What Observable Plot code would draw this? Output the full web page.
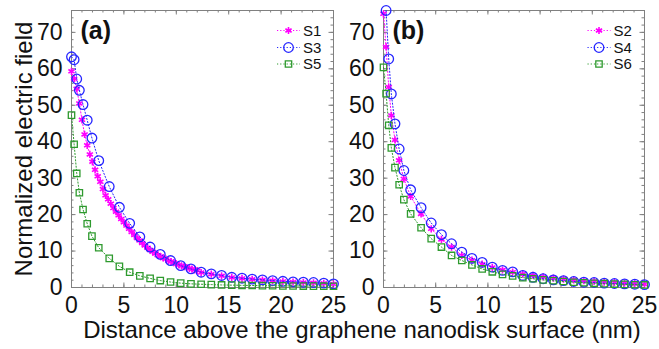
<!DOCTYPE html>
<html><head><meta charset="utf-8">
<script src="https://cdn.jsdelivr.net/npm/d3@7"></script>
<script src="https://cdn.jsdelivr.net/npm/@observablehq/plot@0.6"></script>
<style>
body{margin:0;background:#fff;}
#wrap{position:relative;width:659px;height:349px;overflow:hidden;font-family:"Liberation Sans",Arial,sans-serif;color:#111;}
.panel{position:absolute;top:0;}
#xlabel{position:absolute;left:82px;width:560px;top:318px;text-align:center;font-size:24px;line-height:24px;white-space:nowrap;}
#ylabel{position:absolute;left:24px;top:148.5px;transform:translate(-50%,-50%) rotate(-90deg);font-size:24px;line-height:24px;white-space:nowrap;}
#legend{position:absolute;left:0;top:0;pointer-events:none;}
</style></head>
<body>
<div id="wrap">
  <div id="pa" class="panel" style="left:0"></div>
  <div id="pb" class="panel" style="left:340px"></div>
  <div id="ylabel">Normalized electric field</div>
  <div id="xlabel">Distance above the graphene nanodisk surface (nm)</div>
</div>
<script>
// ---------- data ----------
const xGrid = [0, 0.25, 0.5, 0.75, 1.1, 1.5, 1.95, 2.6, 3.6, 4.57, 5.55, 6.52, 7.5, 8.47, 9.45, 10.42,
  11.4, 12.37, 13.34, 14.32, 15.29, 16.27, 17.24, 18.22, 19.19, 20.17, 21.14, 22.12, 23.09, 24.07, 25];

// panel (a)
const s1X = [0, 0.25, 0.5, 0.75, 1, 1.25, 1.5, 1.75, 2, 2.25, 2.5, 2.75, 3, 3.25, 3.5, 3.75, 4, 4.25, 4.5, 4.75,
  5, 5.25, 5.5, 5.75, 6, 6.25, 6.5, 6.75, 7, 7.25, 7.5, 7.75, 8, 8.25, 8.5, 8.75, 9, 9.25, 9.5, 9.75,
  10, 10.25, 10.5, 10.75, 11, 11.25, 11.5, 11.75, 12,
  12.37, 13.34, 14.32, 15.29, 16.27, 17.24, 18.22, 19.19, 20.17, 21.14, 22.12, 23.09, 24.07, 25];
const s1Y = [59.3, 57.3, 54.5, 50.5, 46, 42, 39, 36.5, 34.5, 32.3, 30.5, 29, 27, 25.3, 24.2, 23, 21.8, 20.8, 19.8, 18.8,
  17.9, 17, 16.1, 15.2, 14.4, 13.6, 12.9, 12.2, 11.5, 10.9, 10.3, 9.8, 9.3, 8.9, 8.5, 8.1, 7.8, 7.4, 7.1, 6.8,
  6.5, 6.2, 5.95, 5.7, 5.45, 5.25, 5.05, 4.85, 4.65,
  4.1, 3.65, 3.2, 2.75, 2.5, 2.25, 2.05, 1.85, 1.65, 1.5, 1.4, 1.3, 1.15, 0.95];
const s3Y = [63.3, 62.5, 57.2, 54.1, 50.2, 45.9, 41.0, 34.8, 27.7, 22.0, 17.6, 13.9, 11.1, 9.1, 7.4, 6.0,
  5.1, 4.2, 3.75, 3.3, 2.8, 2.55, 2.3, 2.1, 1.9, 1.7, 1.55, 1.45, 1.37, 1.2, 1.0];
const s5Y = [47.3, 39.3, 31.3, 26.0, 21.4, 17.5, 14.1, 10.9, 8.0, 5.8, 4.2, 3.2, 2.5, 1.9, 1.5, 1.2,
  1.0, 0.9, 0.8, 0.7, 0.65, 0.6, 0.55, 0.5, 0.48, 0.45, 0.42, 0.4, 0.38, 0.36, 0.35];

// panel (b)
const s2Y = [75.1, 66.0, 55.0, 47.2, 40.5, 34.9, 29.8, 25.0, 20.2, 16.1, 13.2, 11.1, 8.8, 7.5, 6.4, 5.5,
  4.8, 4.2, 3.7, 3.3, 2.9, 2.6, 2.3, 2.1, 1.9, 1.7, 1.5, 1.35, 1.2, 1.05, 0.9];
const s4Y = [null, 76, 62.7, 53.1, 44.9, 38.0, 32.1, 26.8, 21.9, 17.7, 14.5, 12.0, 9.7, 8.0, 6.9, 5.6,
  4.7, 4.3, 3.3, 2.8, 2.4, 2.1, 1.9, 1.65, 1.45, 1.37, 1.2, 1.1, 1.0, 0.9, 0.8];
const s6Y = [60.4, 53.2, 44.5, 38.3, 32.9, 28.2, 24.1, 20.2, 16.4, 13.4, 11.1, 8.8, 7.4, 6.2, 5.1, 4.3,
  3.6, 3.2, 2.7, 2.4, 2.1, 1.85, 1.65, 1.45, 1.3, 1.15, 1.05, 0.95, 0.85, 0.75, 0.7];

const xTicks = [0, 5, 10, 15, 20, 25];
const yTicks = [0, 10, 20, 30, 40, 50, 60, 70];
const panelLabels = ["(a)", "(b)"];
const legendA = ["S1", "S3", "S5"];
const legendB = ["S2", "S4", "S6"];

// ---------- styles ----------
const MAG = "#ff00ff", BLU = "#2626ff", GRN = "#2e9a2e", FRAME = "#808080";
const styleOf = {
  star:   {symbol: "asterisk", r: 3.4, stroke: MAG, strokeWidth: 1.6, color: MAG},
  circle: {symbol: "circle",   r: 4.8, stroke: BLU, strokeWidth: 1.3, color: BLU},
  square: {symbol: "square",   r: 3.6, stroke: GRN, strokeWidth: 1.3, color: GRN}
};

function rows(xs, ys) {
  return xs.map((x, i) => ({x, y: ys[i]})).filter(d => d.y != null);
}

const X_DOMAIN = [0, 25], Y_DOMAIN = [0, 76];
const xMinor = d3.range(0, 26, 1);
const yMinor = d3.range(0, 77, 2);

function makePanel(series, label, opts) {
  const {width, marginLeft, marginRight} = opts;
  const marginTop = 10, marginBottom = 62, height = 349;
  const pxX = (X_DOMAIN[1] - X_DOMAIN[0]) / (width - marginLeft - marginRight);
  const pxY = (Y_DOMAIN[1] - Y_DOMAIN[0]) / (height - marginTop - marginBottom);
  const tMin = 2.5, tMaj = 4.5;
  const tickMarks = [
    Plot.ruleX(xMinor, {y1: 0, y2: tMin * pxY, stroke: FRAME}),
    Plot.ruleX(xMinor, {y1: 76 - tMin * pxY, y2: 76, stroke: FRAME}),
    Plot.ruleX(xTicks, {y1: 0, y2: tMaj * pxY, stroke: FRAME}),
    Plot.ruleX(xTicks, {y1: 76 - tMaj * pxY, y2: 76, stroke: FRAME}),
    Plot.ruleY(yMinor, {x1: 0, x2: tMin * pxX, stroke: FRAME}),
    Plot.ruleY(yMinor, {x1: 25 - tMin * pxX, x2: 25, stroke: FRAME}),
    Plot.ruleY(yTicks, {x1: 0, x2: tMaj * pxX, stroke: FRAME}),
    Plot.ruleY(yTicks, {x1: 25 - tMaj * pxX, x2: 25, stroke: FRAME})
  ];
  const dataMarks = [];
  for (const s of series) {
    const st = styleOf[s.kind];
    const data = rows(s.x, s.y);
    dataMarks.push(Plot.line(data, {x: "x", y: "y", stroke: st.color, strokeWidth: 1, strokeDasharray: "1.2,2"}));
    dataMarks.push(Plot.dot(data, {x: "x", y: "y", symbol: st.symbol, r: st.r, stroke: st.stroke,
      strokeWidth: st.strokeWidth, fill: "none"}));
  }
  return Plot.plot({
    width, height, marginLeft, marginRight, marginTop, marginBottom,
    style: {fontFamily: "Liberation Sans, Arial, sans-serif", fontSize: "23px", background: "transparent", color: "#111", overflow: "visible"},
    x: {domain: X_DOMAIN},
    y: {domain: Y_DOMAIN},
    marks: [
      ...tickMarks,
      Plot.frame({stroke: FRAME, strokeWidth: 1}),
      ...dataMarks,
      Plot.axisX(xTicks, {tickSize: 0, tickPadding: 9, label: null, fontSize: 23}),
      Plot.axisY(yTicks, {tickSize: 0, tickPadding: 9, label: null, fontSize: 23}),
      Plot.text([label], {frameAnchor: "top-left", text: d => d, dx: 9, dy: 11, fontWeight: "bold",
        fontSize: 25, textAnchor: "start", lineAnchor: "top", fill: "#111"})
    ]
  });
}

const panelA = makePanel([
  {kind: "star", x: s1X, y: s1Y},
  {kind: "circle", x: xGrid, y: s3Y},
  {kind: "square", x: xGrid, y: s5Y}
], panelLabels[0], {width: 340, marginLeft: 71, marginRight: 7});

const panelB = makePanel([
  {kind: "star", x: xGrid, y: s2Y},
  {kind: "circle", x: xGrid, y: s4Y},
  {kind: "square", x: xGrid, y: s6Y}
], panelLabels[1], {width: 319, marginLeft: 43, marginRight: 15});

document.getElementById("pa").appendChild(panelA);
document.getElementById("pb").appendChild(panelB);

// ---------- legends ----------
const leg = d3.select("#wrap").append("svg").attr("id", "legend").attr("width", 659).attr("height", 349);
const kinds = ["star", "circle", "square"];
function drawLegend(names, x0) {
  const rowsY = [30.5, 47.5, 64];
  names.forEach((name, i) => {
    const st = styleOf[kinds[i]];
    const y = rowsY[i];
    leg.append("line").attr("x1", x0).attr("x2", x0 + 23).attr("y1", y).attr("y2", y)
      .attr("stroke", st.color).attr("stroke-width", 1).attr("stroke-dasharray", "1.2,2");
    const sym = {star: d3.symbolAsterisk, circle: d3.symbolCircle, square: d3.symbolSquare}[kinds[i]];
    leg.append("path").attr("d", d3.symbol(sym, Math.PI * st.r * st.r)())
      .attr("transform", `translate(${x0 + 11.5},${y})`)
      .attr("fill", "none").attr("stroke", st.stroke).attr("stroke-width", st.strokeWidth);
    leg.append("text").attr("x", x0 + 26).attr("y", y).attr("dy", "0.36em")
      .attr("font-family", "Liberation Sans, Arial, sans-serif").attr("font-size", 15)
      .attr("fill", "#111").text(name);
  });
}
drawLegend(legendA, 277);
drawLegend(legendB, 587.5);
</script>
</body></html>
